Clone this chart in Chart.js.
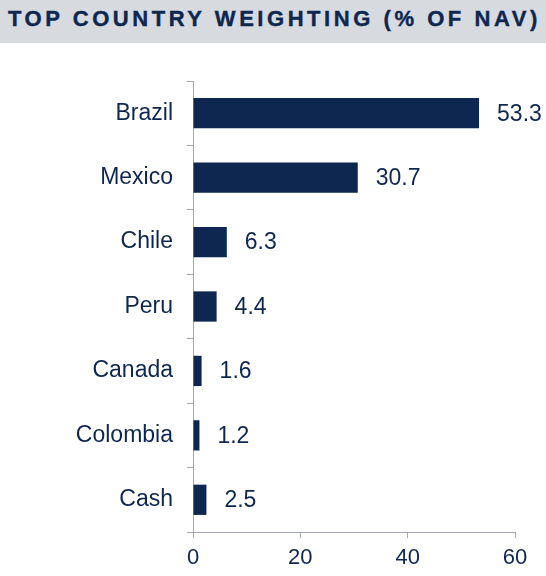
<!DOCTYPE html>
<html>
<head>
<meta charset="utf-8">
<script src="https://cdn.jsdelivr.net/npm/chart.js@4"></script>
<style>
  html, body { margin: 0; padding: 0; background: #fff; }
  #titre {
    height: 42px;
    background: #d7dbe0;
    color: #0d2751;
    font: bold 22px "Liberation Sans", Arial, sans-serif;
    letter-spacing: 3.55px;
    line-height: 37px;
    padding-bottom: 1px;
    padding-left: 8px;
    white-space: nowrap;
    overflow: hidden;
    -webkit-text-stroke: 0.4px #0d2751;
  }
  #zone { width: 546px; height: 533px; position: relative; }
</style>
</head>
<body>
<div id="titre">TOP COUNTRY WEIGHTING (% OF NAV)</div>
<div id="zone"><canvas id="graphique"></canvas></div>
<script>
var pays = ["Brazil", "Mexico", "Chile", "Peru", "Canada", "Colombia", "Cash"];
var poids = [53.3, 30.7, 6.3, 4.4, 1.6, 1.2, 2.5];
var ticksX = [0, 20, 40, 60];

var marine = "#0d2751";
var gris = "#a3a8b0";

// étiquettes de valeur à droite des barres
var etiquettes = {
  id: "etiquettes",
  afterDatasetsDraw: function(chart) {
    var ctx = chart.ctx;
    var meta = chart.getDatasetMeta(0);
    ctx.save();
    ctx.fillStyle = marine;
    ctx.font = '23px "Liberation Sans", Arial, sans-serif';
    ctx.textAlign = "left";
    ctx.textBaseline = "middle";
    meta.data.forEach(function(bar, i) {
      ctx.fillText(poids[i].toFixed(1), bar.x + 18, bar.y + 1);
    });
    ctx.restore();
  }
};

var ctx = document.getElementById("graphique").getContext("2d");
var chart = new Chart(ctx, {
  type: "bar",
  data: {
    labels: pays,
    datasets: [{
      data: poids,
      backgroundColor: marine,
      borderWidth: 0,
      categoryPercentage: 1,
      barPercentage: 0.47
    }]
  },
  options: {
    indexAxis: "y",
    responsive: true,
    maintainAspectRatio: false,
    animation: false,
    layout: { padding: { top: 38, right: 31, left: 0, bottom: 0 } },
    plugins: {
      legend: { display: false },
      tooltip: { enabled: false }
    },
    scales: {
      x: {
        min: 0,
        max: 60,
        afterBuildTicks: function(scale) {
          scale.ticks = ticksX.map(function(v) { return { value: v }; });
        },
        afterFit: function(scale) { scale.height = 44; },
        grid: { drawOnChartArea: false, color: gris, tickLength: 6 },
        border: { color: gris, width: 1 },
        ticks: {
          color: marine,
          padding: 7,
          font: { family: '"Liberation Sans", Arial, sans-serif', size: 22 }
        }
      },
      y: {
        afterFit: function(scale) { scale.width = 193; },
        grid: { drawOnChartArea: false, color: gris, tickLength: 6 },
        border: { color: gris, width: 1 },
        ticks: {
          color: marine,
          padding: 14,
          font: { family: '"Liberation Sans", Arial, sans-serif', size: 23 }
        }
      }
    }
  },
  plugins: [etiquettes]
});
</script>
</body>
</html>
